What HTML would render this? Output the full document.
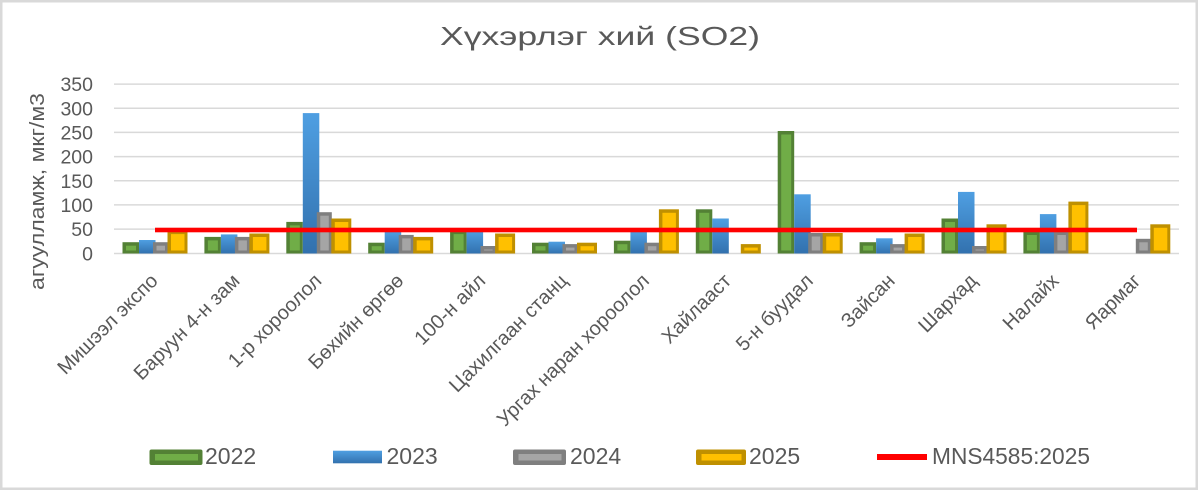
<!DOCTYPE html>
<html><head><meta charset="utf-8"><style>
html,body{margin:0;padding:0;background:#fff;}
svg{display:block;}
text{font-family:"Liberation Sans","DejaVu Sans",sans-serif;fill:#595959;}
</style></head><body>
<svg width="1200" height="490" viewBox="0 0 1200 490" xmlns="http://www.w3.org/2000/svg">
<defs>
<linearGradient id="gb" x1="0" y1="0" x2="0" y2="1">
<stop offset="0" stop-color="#4f9fe2"/><stop offset="1" stop-color="#3271ae"/>
</linearGradient>
<linearGradient id="gbl" x1="0" y1="0" x2="0" y2="1">
<stop offset="0" stop-color="#4f9fe2"/><stop offset="1" stop-color="#3271ae"/>
</linearGradient>
</defs>
<rect x="0" y="0" width="1200" height="490" fill="#fff"/>
<rect x="1.25" y="1.25" width="1195.5" height="487.5" fill="none" stroke="#d9d9d9" stroke-width="2.5"/>

<text x="600" y="45" font-size="26" text-anchor="middle" textLength="320" lengthAdjust="spacingAndGlyphs">Хүхэрлэг хий (SO2)</text>

<g stroke="#d9d9d9" stroke-width="1.5">
<line x1="114" y1="84.1" x2="1179" y2="84.1"/>
<line x1="114" y1="108.3" x2="1179" y2="108.3"/>
<line x1="114" y1="132.4" x2="1179" y2="132.4"/>
<line x1="114" y1="156.6" x2="1179" y2="156.6"/>
<line x1="114" y1="180.8" x2="1179" y2="180.8"/>
<line x1="114" y1="204.9" x2="1179" y2="204.9"/>
<line x1="114" y1="229.1" x2="1179" y2="229.1"/>
<line x1="114" y1="253.5" x2="1179" y2="253.5"/>
</g>

<g font-size="19.5" text-anchor="end">
<text x="93" y="91.1">350</text>
<text x="93" y="115.3">300</text>
<text x="93" y="139.4">250</text>
<text x="93" y="163.6">200</text>
<text x="93" y="187.8">150</text>
<text x="93" y="211.9">100</text>
<text x="93" y="236.1">50</text>
<text x="93" y="260.3">0</text>
</g>

<text transform="translate(44,191.5) rotate(-90)" font-size="20" text-anchor="middle" textLength="197" lengthAdjust="spacingAndGlyphs">агуулламж, мкг/м3</text>

<!-- bars -->
<g>
<!-- cat 0 -->
<rect x="122.5" y="242.2" width="16.5" height="11.3" fill="#538135"/><rect x="126" y="245.7" width="10" height="4.8" fill="#70ad47"/>
<rect x="139" y="240" width="16.5" height="13.5" fill="url(#gb)"/>
<rect x="153" y="242.2" width="15" height="11.3" fill="#7f7f7f"/><rect x="156.5" y="245.7" width="8.5" height="4.8" fill="#a5a5a5"/>
<rect x="167.5" y="230.6" width="20" height="22.9" fill="#bf9000"/><rect x="171" y="234.1" width="13.5" height="16.4" fill="#ffc000"/>
<!-- cat 1 -->
<rect x="204.4" y="236.9" width="16.5" height="16.6" fill="#538135"/><rect x="207.9" y="240.4" width="10" height="10.1" fill="#70ad47"/>
<rect x="220.9" y="234.4" width="16.5" height="19.1" fill="url(#gb)"/>
<rect x="234.9" y="236.9" width="15" height="16.6" fill="#7f7f7f"/><rect x="238.4" y="240.4" width="8.5" height="10.1" fill="#a5a5a5"/>
<rect x="249.4" y="233.5" width="20" height="20" fill="#bf9000"/><rect x="252.9" y="237" width="13.5" height="13.5" fill="#ffc000"/>
<!-- cat 2 -->
<rect x="286.3" y="221.9" width="16.5" height="31.6" fill="#538135"/><rect x="289.8" y="225.4" width="10" height="25.1" fill="#70ad47"/>
<rect x="302.8" y="113.1" width="16.5" height="140.4" fill="url(#gb)"/>
<rect x="316.8" y="212.2" width="15" height="41.3" fill="#7f7f7f"/><rect x="320.3" y="215.7" width="8.5" height="34.8" fill="#a5a5a5"/>
<rect x="331.3" y="218.5" width="20" height="35" fill="#bf9000"/><rect x="334.8" y="222" width="13.5" height="28.5" fill="#ffc000"/>
<!-- cat 3 -->
<rect x="368.2" y="242.7" width="16.5" height="10.8" fill="#538135"/><rect x="371.7" y="246.2" width="10" height="4.3" fill="#70ad47"/>
<rect x="384.7" y="231.5" width="16.5" height="22" fill="url(#gb)"/>
<rect x="398.7" y="234.9" width="15" height="18.6" fill="#7f7f7f"/><rect x="402.2" y="238.4" width="8.5" height="12.1" fill="#a5a5a5"/>
<rect x="413.2" y="236.9" width="20" height="16.6" fill="#bf9000"/><rect x="416.7" y="240.4" width="13.5" height="10.1" fill="#ffc000"/>
<!-- cat 4 -->
<rect x="450.1" y="230.6" width="16.5" height="22.9" fill="#538135"/><rect x="453.6" y="234.1" width="10" height="16.4" fill="#70ad47"/>
<rect x="466.6" y="230.6" width="16.5" height="22.9" fill="url(#gb)"/>
<rect x="480.6" y="246" width="15" height="7.5" fill="#7f7f7f"/><rect x="484.1" y="249.5" width="8.5" height="1" fill="#a5a5a5"/>
<rect x="495.1" y="233.5" width="20" height="20" fill="#bf9000"/><rect x="498.6" y="237" width="13.5" height="13.5" fill="#ffc000"/>
<!-- cat 5 -->
<rect x="532" y="242.7" width="16.5" height="10.8" fill="#538135"/><rect x="535.5" y="246.2" width="10" height="4.3" fill="#70ad47"/>
<rect x="548.5" y="241.7" width="16.5" height="11.8" fill="url(#gb)"/>
<rect x="562.5" y="244.1" width="15" height="9.4" fill="#7f7f7f"/><rect x="566" y="247.6" width="8.5" height="2.9" fill="#a5a5a5"/>
<rect x="577" y="242.7" width="20" height="10.8" fill="#bf9000"/><rect x="580.5" y="246.2" width="13.5" height="4.3" fill="#ffc000"/>
<!-- cat 6 -->
<rect x="613.9" y="240.7" width="16.5" height="12.8" fill="#538135"/><rect x="617.4" y="244.2" width="10" height="6.3" fill="#70ad47"/>
<rect x="630.4" y="231.5" width="16.5" height="22" fill="url(#gb)"/>
<rect x="644.4" y="242.7" width="15" height="10.8" fill="#7f7f7f"/><rect x="647.9" y="246.2" width="8.5" height="4.3" fill="#a5a5a5"/>
<rect x="658.9" y="209.3" width="20" height="44.2" fill="#bf9000"/><rect x="662.4" y="212.8" width="13.5" height="37.7" fill="#ffc000"/>
<!-- cat 7 -->
<rect x="695.8" y="209.3" width="16.5" height="44.2" fill="#538135"/><rect x="699.3" y="212.8" width="10" height="37.7" fill="#70ad47"/>
<rect x="712.3" y="218.5" width="16.5" height="35" fill="url(#gb)"/>
<rect x="740.8" y="244.1" width="20" height="9.4" fill="#bf9000"/><rect x="744.3" y="247.6" width="13.5" height="2.9" fill="#ffc000"/>
<!-- cat 8 -->
<rect x="777.7" y="131" width="16.5" height="122.5" fill="#538135"/><rect x="781.2" y="134.5" width="10" height="116" fill="#70ad47"/>
<rect x="794.2" y="194.3" width="16.5" height="59.2" fill="url(#gb)"/>
<rect x="808.2" y="233" width="15" height="20.5" fill="#7f7f7f"/><rect x="811.7" y="236.5" width="8.5" height="14" fill="#a5a5a5"/>
<rect x="822.7" y="233" width="20" height="20.5" fill="#bf9000"/><rect x="826.2" y="236.5" width="13.5" height="14" fill="#ffc000"/>
<!-- cat 9 -->
<rect x="859.6" y="242.2" width="16.5" height="11.3" fill="#538135"/><rect x="863.1" y="245.7" width="10" height="4.8" fill="#70ad47"/>
<rect x="876.1" y="238.3" width="16.5" height="15.2" fill="url(#gb)"/>
<rect x="890.1" y="244.1" width="15" height="9.4" fill="#7f7f7f"/><rect x="893.6" y="247.6" width="8.5" height="2.9" fill="#a5a5a5"/>
<rect x="904.6" y="233.5" width="20" height="20" fill="#bf9000"/><rect x="908.1" y="237" width="13.5" height="13.5" fill="#ffc000"/>
<!-- cat 10 -->
<rect x="941.5" y="218.5" width="16.5" height="35" fill="#538135"/><rect x="945" y="222" width="10" height="28.5" fill="#70ad47"/>
<rect x="958" y="191.9" width="16.5" height="61.6" fill="url(#gb)"/>
<rect x="972" y="246" width="15" height="7.5" fill="#7f7f7f"/><rect x="975.5" y="249.5" width="8.5" height="1" fill="#a5a5a5"/>
<rect x="986.5" y="224.3" width="20" height="29.2" fill="#bf9000"/><rect x="990" y="227.8" width="13.5" height="22.7" fill="#ffc000"/>
<!-- cat 11 -->
<rect x="1023.4" y="231.5" width="16.5" height="22" fill="#538135"/><rect x="1026.9" y="235" width="10" height="15.5" fill="#70ad47"/>
<rect x="1039.9" y="214.1" width="16.5" height="39.4" fill="url(#gb)"/>
<rect x="1053.9" y="231.5" width="15" height="22" fill="#7f7f7f"/><rect x="1057.4" y="235" width="8.5" height="15.5" fill="#a5a5a5"/>
<rect x="1068.4" y="201.6" width="20" height="51.9" fill="#bf9000"/><rect x="1071.9" y="205.1" width="13.5" height="45.4" fill="#ffc000"/>
<!-- cat 12 -->
<rect x="1135.8" y="238.8" width="15" height="14.7" fill="#7f7f7f"/><rect x="1139.3" y="242.3" width="8.5" height="8.2" fill="#a5a5a5"/>
<rect x="1150.3" y="224.3" width="20" height="29.2" fill="#bf9000"/><rect x="1153.8" y="227.8" width="13.5" height="22.7" fill="#ffc000"/>
</g>

<!-- limit line -->
<rect x="155" y="227.7" width="982" height="4.6" fill="#ff0000"/>

<!-- x labels -->
<g font-size="20" text-anchor="end">
<text transform="translate(159,282) rotate(-45)">Мишээл экспо</text>
<text transform="translate(240.9,282) rotate(-45)">Баруун 4-н зам</text>
<text transform="translate(322.8,282) rotate(-45)">1-р хороолол</text>
<text transform="translate(404.7,282) rotate(-45)">Бөхийн өргөө</text>
<text transform="translate(486.6,282) rotate(-45)">100-н айл</text>
<text transform="translate(568.5,282) rotate(-45)">Цахилгаан станц</text>
<text transform="translate(650.4,282) rotate(-45)">Ургах наран хороолол</text>
<text transform="translate(732.3,282) rotate(-45)">Хайлааст</text>
<text transform="translate(814.2,282) rotate(-45)">5-н буудал</text>
<text transform="translate(896.1,282) rotate(-45)">Зайсан</text>
<text transform="translate(978,282) rotate(-45)">Шархад</text>
<text transform="translate(1059.9,282) rotate(-45)">Налайх</text>
<text transform="translate(1141.8,282) rotate(-45)">Яармаг</text>
</g>

<!-- legend -->
<g font-size="23">
<rect x="149.5" y="449.5" width="53" height="15.5" rx="2" fill="#538135"/>
<rect x="155" y="454" width="43" height="6.5" fill="#70ad47"/>
<text x="205" y="464">2022</text>

<rect x="333" y="450.7" width="49" height="12.6" fill="url(#gbl)"/>
<text x="386.5" y="464">2023</text>

<rect x="513" y="449.5" width="53" height="15.5" rx="2" fill="#7f7f7f"/>
<rect x="518.5" y="454" width="43" height="6.5" fill="#a5a5a5"/>
<text x="570" y="464">2024</text>

<rect x="696" y="449.5" width="50" height="15.5" rx="2" fill="#bf9000"/>
<rect x="701.5" y="454" width="40" height="6.5" fill="#ffc000"/>
<text x="749" y="464">2025</text>

<rect x="877" y="454" width="50" height="6" fill="#ff0000"/>
<text x="932" y="464" textLength="158" lengthAdjust="spacingAndGlyphs" fill="#6f6f6f">MNS4585:2025</text>
</g>
</svg>
</body></html>
